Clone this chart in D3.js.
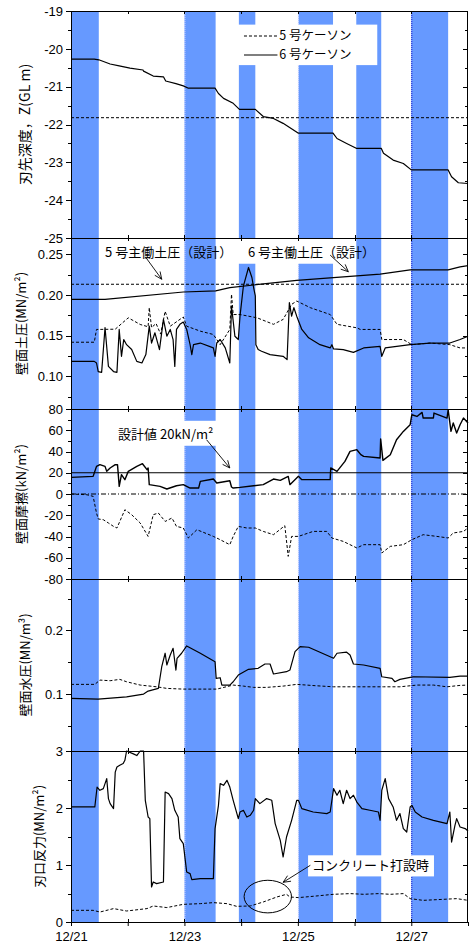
<!DOCTYPE html>
<html><head><meta charset="utf-8">
<script src="https://cdn.jsdelivr.net/npm/d3@7"></script>
<style>body{margin:0;background:#fff}svg{display:block}</style>
</head><body><svg id="c" width="469" height="944"></svg>
<script>
// ---------------- data (time in days since 12/21 00:00) ----------------
const xTickLabels = ["12/21","","12/23","","12/25","","12/27",""];
const bands = [[0,0.49],[2.0,2.55],[2.96,3.25],[4.01,4.62],[5.03,5.47],[6.0,6.65]];
const legendNames = ["5 号ケーソン","6 号ケーソン"];

// panel 1 : cutting edge depth (GL m)
const depth5 = [[0,-21.82],[7,-21.82]];
const depth6 = [[0,-20.27],[0.41,-20.27],[0.49,-20.29],[0.69,-20.4],[0.85,-20.45],[1.04,-20.51],[1.27,-20.56],[1.28,-20.59],[1.45,-20.72],[1.63,-20.74],[1.67,-20.85],[1.85,-20.92],[1.98,-20.98],[2.07,-21.04],[2.54,-21.04],[2.60,-21.18],[2.69,-21.31],[2.86,-21.44],[2.97,-21.6],[3.25,-21.6],[3.39,-21.79],[3.57,-21.84],[3.74,-21.97],[4.01,-22.23],[4.62,-22.23],[4.69,-22.37],[4.86,-22.5],[5.03,-22.63],[5.47,-22.63],[5.51,-22.76],[5.68,-22.94],[5.86,-23.03],[6.0,-23.2],[6.65,-23.2],[6.71,-23.38],[6.83,-23.54],[7.0,-23.56]];

// panel 2 : wall earth pressure (MN/m2)
const epDesign5 = [[0,0.2132],[7,0.2132]];
const epDesign6 = [[0,0.1946],[0.6,0.1946],[1.98,0.2037],[2.55,0.2050],[2.80,0.2091],[3.98,0.218],[5.45,0.2256],[5.98,0.2309],[6.65,0.2309],[6.86,0.2346],[7.0,0.236]];
const ep5 = [[0,0.142],[0.41,0.142],[0.45,0.1577],[0.78,0.158],[1.01,0.172],[1.22,0.1638],[1.36,0.161],[1.38,0.1845],[1.42,0.16],[1.5,0.165],[1.58,0.152],[1.66,0.180],[1.75,0.1617],[1.98,0.173],[2.04,0.1617],[2.28,0.1556],[2.51,0.1515],[2.57,0.1453],[2.63,0.139],[2.80,0.1577],[2.83,0.2009],[2.86,0.176],[2.98,0.176],[3.28,0.172],[3.57,0.164],[3.74,0.170],[3.89,0.1885],[3.98,0.1926],[4.22,0.1844],[4.57,0.176],[4.69,0.164],[5.04,0.1597],[5.10,0.1577],[5.45,0.1577],[5.48,0.1453],[5.86,0.1453],[6.01,0.139],[6.33,0.141],[6.68,0.139],[6.86,0.135],[7.0,0.135]];
const ep6 = [[0,0.1185],[0.41,0.1185],[0.45,0.1165],[0.48,0.106],[0.54,0.105],[0.60,0.16],[0.66,0.1123],[0.75,0.106],[0.81,0.105],[0.85,0.1577],[0.89,0.1247],[0.93,0.1453],[0.98,0.139],[1.07,0.133],[1.16,0.1185],[1.25,0.1165],[1.32,0.1268],[1.38,0.1617],[1.42,0.141],[1.48,0.1536],[1.56,0.133],[1.63,0.170],[1.69,0.1494],[1.75,0.1577],[1.80,0.1453],[1.83,0.1123],[1.86,0.1577],[1.92,0.164],[1.98,0.1667],[2.04,0.1577],[2.10,0.139],[2.13,0.1268],[2.16,0.139],[2.28,0.141],[2.51,0.135],[2.54,0.1247],[2.57,0.141],[2.63,0.1453],[2.72,0.135],[2.80,0.1165],[2.83,0.1864],[2.89,0.1494],[2.95,0.1453],[2.98,0.174],[3.04,0.211],[3.13,0.2338],[3.19,0.2215],[3.22,0.2091],[3.25,0.1988],[3.26,0.139],[3.30,0.133],[3.36,0.1309],[3.51,0.1268],[3.74,0.1247],[3.81,0.1206],[3.85,0.1906],[3.89,0.174],[3.93,0.1844],[3.98,0.174],[4.07,0.1577],[4.19,0.1474],[4.39,0.139],[4.57,0.135],[4.60,0.139],[4.63,0.1338],[4.80,0.133],[4.98,0.1296],[5.16,0.135],[5.45,0.137],[5.48,0.1247],[5.54,0.135],[5.98,0.139],[6.33,0.141],[6.68,0.141],[6.86,0.1453],[7.0,0.1494]];

// panel 3 : wall friction (kN/m2)
const frDesign = [[0,20],[7,20]];
const frZero = [[0,0],[7,0]];
const fr6 = [[0,15.6],[0.39,16.6],[0.45,26],[0.51,27.6],[0.60,26],[0.63,21.3],[0.69,24.5],[0.78,27.6],[0.82,27.6],[0.85,7.2],[0.89,18.2],[0.95,13.5],[1.01,21.3],[1.16,26],[1.26,28.5],[1.34,22.9],[1.36,24.5],[1.38,8.8],[1.57,7.2],[1.69,4.7],[1.86,7.8],[1.98,8.8],[2.10,5.6],[2.25,5.6],[2.28,11.9],[2.51,14.1],[2.57,10.4],[2.80,12.5],[2.83,6.6],[2.86,5.6],[2.98,6.2],[3.22,7.8],[3.39,8.8],[3.57,14.1],[3.69,12.8],[3.83,16.6],[3.86,8.8],[4.01,16.6],[4.07,13.5],[4.57,13.5],[4.58,24.5],[4.69,21.3],[4.83,30.7],[4.92,40.1],[5.04,41.7],[5.11,37],[5.16,35.4],[5.45,33.9],[5.46,51.8],[5.50,31.6],[5.63,37],[5.74,51.1],[5.86,58.9],[5.98,65.2],[6.01,74.6],[6.10,73],[6.19,76.8],[6.21,71.5],[6.39,71.5],[6.40,76.2],[6.63,71.5],[6.65,79.3],[6.70,58.9],[6.74,66.8],[6.80,57.4],[6.86,65.2],[6.92,71.5],[7.0,66.8]];
const fr5 = [[0,0],[0.28,-0.7],[0.39,-2.2],[0.45,-17.9],[0.48,-23.5],[0.57,-24.2],[0.66,-27.3],[0.75,-30.5],[0.81,-32],[0.95,-14.8],[1.07,-19.5],[1.22,-27.3],[1.36,-39.9],[1.45,-19.5],[1.54,-17.9],[1.66,-25.8],[1.78,-22.6],[1.86,-30.5],[1.98,-32],[2.07,-41.4],[2.22,-33.6],[2.51,-39.9],[2.63,-43],[2.80,-47.7],[2.86,-39.9],[2.95,-30.5],[3.10,-32],[3.25,-32],[3.39,-35.2],[3.57,-38.3],[3.77,-29.8],[3.83,-58.7],[3.89,-39.9],[4.01,-39.9],[4.27,-35.2],[4.51,-35.2],[4.60,-41.4],[4.80,-44.6],[5.04,-50.8],[5.16,-47.7],[5.45,-47.7],[5.48,-55.5],[5.63,-49.3],[5.86,-47.7],[6.01,-43],[6.21,-38.3],[6.45,-39.9],[6.65,-41.4],[6.74,-36.7],[6.92,-35.2],[7.0,-32]];

// panel 4 : wall water pressure (MN/m3)
const wp6 = [[0,0.0937],[0.48,0.0926],[0.98,0.0962],[1.28,0.1005],[1.36,0.1052],[1.54,0.1094],[1.60,0.1433],[1.66,0.1644],[1.69,0.146],[1.75,0.1617],[1.80,0.1722],[1.85,0.1381],[1.87,0.1565],[1.95,0.1644],[2.04,0.1758],[2.28,0.1644],[2.54,0.1512],[2.56,0.1251],[2.63,0.1261],[2.66,0.1146],[2.80,0.1146],[2.86,0.1198],[2.95,0.1303],[3.13,0.1392],[3.30,0.1408],[3.42,0.1476],[3.51,0.1476],[3.57,0.1319],[3.80,0.1355],[3.86,0.1381],[3.95,0.1669],[4.04,0.1747],[4.19,0.1738],[4.63,0.1565],[4.69,0.1644],[4.86,0.166],[4.92,0.1617],[4.98,0.1476],[5.16,0.146],[5.45,0.1408],[5.48,0.1276],[5.66,0.1251],[5.71,0.1198],[5.80,0.1235],[5.98,0.1267],[6.04,0.1276],[6.68,0.1267],[6.86,0.1287],[7.0,0.1287]];
const wp5 = [[0,0.1157],[0.42,0.1157],[0.51,0.1224],[0.69,0.1214],[0.86,0.1235],[0.98,0.1198],[1.22,0.1146],[1.51,0.1119],[1.69,0.1094],[1.98,0.1083],[2.57,0.1083],[2.86,0.1146],[3.04,0.113],[3.22,0.111],[3.45,0.111],[3.74,0.113],[3.98,0.1157],[4.33,0.1135],[4.63,0.1119],[5.51,0.1119],[5.80,0.1119],[6.10,0.1146],[6.39,0.1146],[6.63,0.1119],[6.86,0.1141],[7.0,0.1146]];

// panel 5 : cutting edge reaction (MN/m2)
const br6 = [[0,2.018],[0.42,2.018],[0.46,2.368],[0.51,2.311],[0.57,2.34],[0.63,2.516],[0.66,2.165],[0.69,2.077],[0.75,1.99],[0.78,2.63],[0.81,2.72],[0.86,2.75],[0.92,2.78],[0.95,2.837],[0.98,3.0],[1.10,2.95],[1.16,2.92],[1.22,3.0],[1.28,3.0],[1.31,2.135],[1.36,1.842],[1.39,1.814],[1.42,0.614],[1.45,0.702],[1.51,0.674],[1.63,0.702],[1.66,2.28],[1.72,2.253],[1.78,2.165],[1.83,1.96],[1.89,1.842],[1.92,1.463],[1.98,1.375],[2.04,0.877],[2.10,0.849],[2.13,0.744],[2.28,0.761],[2.51,0.761],[2.54,1.639],[2.60,2.047],[2.63,2.428],[2.69,2.398],[2.75,2.486],[2.80,2.368],[2.86,2.135],[2.95,1.814],[2.98,1.93],[3.04,1.96],[3.10,1.842],[3.16,1.872],[3.22,1.96],[3.25,2.165],[3.33,2.077],[3.45,2.165],[3.54,2.135],[3.60,1.726],[3.69,1.433],[3.74,1.14],[3.80,1.491],[3.89,1.784],[3.98,2.135],[4.01,2.135],[4.07,1.989],[4.27,1.93],[4.51,1.902],[4.57,1.93],[4.63,2.34],[4.69,2.223],[4.74,2.311],[4.80,2.077],[4.86,2.311],[4.92,2.165],[4.98,2.223],[5.04,2.105],[5.13,1.989],[5.27,1.96],[5.42,1.93],[5.45,1.784],[5.48,2.311],[5.54,2.516],[5.60,2.165],[5.68,2.018],[5.74,1.784],[5.80,1.902],[5.86,1.639],[5.92,1.579],[5.98,2.018],[6.01,2.047],[6.07,1.93],[6.19,1.842],[6.39,1.784],[6.63,1.726],[6.68,1.93],[6.71,1.403],[6.77,1.696],[6.80,1.814],[6.86,1.667],[6.95,1.639],[7.0,1.597]];
const br5 = [[0,0.205],[0.39,0.205],[0.51,0.175],[0.75,0.235],[0.98,0.193],[1.34,0.235],[1.45,0.281],[1.69,0.253],[1.98,0.31],[2.28,0.322],[2.51,0.34],[2.75,0.322],[2.92,0.275],[3.16,0.281],[3.39,0.351],[3.63,0.439],[3.80,0.486],[3.86,0.439],[4.01,0.428],[4.27,0.451],[4.63,0.486],[4.92,0.498],[5.16,0.486],[5.42,0.498],[5.63,0.486],[5.86,0.498],[5.98,0.41],[6.21,0.38],[6.57,0.398],[6.80,0.41],[7.0,0.38]];

// ---------------- layout ----------------
const L = 71, R = 468;
const x = d3.scaleLinear().domain([0, 7]).range([L, R]);
const svg = d3.select("#c");
const NUM = "'Liberation Sans', Arial, sans-serif";
const CJK = "'Noto Sans CJK JP', 'Noto Sans', sans-serif";
const BLUE = "#6699ff";

const panels = [
  {top:11,  bot:238,   domain:[-25,-19], major:d3.range(-25,-18.99,1), minor:0.5, labels:[-19,-20,-21,-22,-23,-24,-25], fmt:v=>String(v), title:"刃先深度，Z(GL m)", tx:25, fs:14},
  {top:238, bot:409,   domain:[0.06,0.27], major:[0.10,0.15,0.20,0.25], minor:0.025, labels:[0.10,0.15,0.20,0.25], fmt:d3.format(".2f"), title:"壁面土圧(MN/m²)", tx:21, fs:13},
  {top:409, bot:579,   domain:[-80,80], major:d3.range(-80,81,20), minor:10, labels:d3.range(-80,81,20), fmt:v=>String(v), title:"壁面摩擦(kN/m²)", tx:21, fs:13},
  {top:579, bot:751,   domain:[0.0115,0.2805], major:[0.1,0.2], minor:0.05, labels:[0.1,0.2], fmt:d3.format(".1f"), title:"壁面水圧(MN/m³)", tx:25, fs:13},
  {top:751, bot:922,   domain:[0,3], major:[0,1,2,3], minor:0.5, labels:[0,1,2,3], fmt:v=>String(v), title:"刃口反力(MN/m²)", tx:39, fs:13}
];
panels.forEach(p => p.y = d3.scaleLinear().domain(p.domain).range([p.bot, p.top]));
const [P1,P2,P3,P4,P5] = panels;
const TOP = P1.top, BOT = P5.bot;

// ---------------- background bands ----------------
const gBand = svg.append("g");
gBand.selectAll("rect").data(bands).join("rect")
  .attr("x", d => x(d[0])).attr("width", d => x(d[1]) - x(d[0]))
  .attr("y", TOP).attr("height", BOT - TOP).attr("fill", BLUE);

// vertical dotted date lines
[[2,"#d8d8ff"],[4,"#d8d8ff"],[6,"#1a1acc"]].forEach(([d,c]) => {
  svg.append("line").attr("x1", x(d)+0.5).attr("x2", x(d)+0.5).attr("y1", TOP).attr("y2", BOT)
    .attr("stroke", c).attr("stroke-width", 1).attr("stroke-dasharray", "1,1");
});

// white boxes behind labels (given in data coordinates)
function whiteBox(p, t0, t1, v0, v1) {
  svg.append("rect").attr("x", x(t0)).attr("width", x(t1) - x(t0))
    .attr("y", p.y(v0)).attr("height", p.y(v1) - p.y(v0)).attr("fill", "#fff");
}
whiteBox(P1, 2.88, 5.40, -19.36, -20.43);
whiteBox(P2, 2.91, 4.92, 0.2690, 0.2384);
whiteBox(P3, 0.72, 2.57, 68.9, 45.4);
whiteBox(P5, 4.18, 6.40, 1.17, 0.80);

// ---------------- series ----------------
function draw(p, data, dashed, w) {
  const line = d3.line().x(d => x(d[0])).y(d => p.y(d[1]));
  svg.append("path").datum(data).attr("d", line).attr("fill", "none")
    .attr("stroke", "#000").attr("stroke-width", w || (dashed ? 1 : 1.2))
    .attr("stroke-dasharray", dashed || null).attr("stroke-linejoin", "round");
}
const DASH = "3,2";
draw(P1, depth5, DASH); draw(P1, depth6, null);
draw(P2, epDesign5, DASH); draw(P2, epDesign6, null);
draw(P2, ep5, DASH); draw(P2, ep6, null);
draw(P3, frDesign, null, 1); draw(P3, frZero, "5,2,1,2", 1);
draw(P3, fr5, DASH); draw(P3, fr6, null, 1.4);
draw(P4, wp5, DASH); draw(P4, wp6, null);
draw(P5, br5, DASH); draw(P5, br6, null);

// ---------------- frames and ticks ----------------
panels.forEach(p => {
  svg.append("rect").attr("x", L+0.5).attr("y", p.top+0.5).attr("width", R-L-1).attr("height", p.bot-p.top)
    .attr("fill", "none").attr("stroke", "#000").attr("stroke-width", 1);
  const minors = d3.range(p.domain[0] - (p.domain[0] % p.minor), p.domain[1] + 1e-9, p.minor)
    .filter(v => v >= p.domain[0] - 1e-9 && v <= p.domain[1] + 1e-9);
  minors.forEach(v => {
    const yy = Math.round(p.y(v)) + 0.5;
    svg.append("line").attr("x1", L-3).attr("x2", L).attr("y1", yy).attr("y2", yy).attr("stroke", "#000");
    svg.append("line").attr("x1", R-3).attr("x2", R).attr("y1", yy).attr("y2", yy).attr("stroke", "#000");
  });
  p.major.forEach(v => {
    const yy = Math.round(p.y(v)) + 0.5;
    svg.append("line").attr("x1", L-5).attr("x2", L).attr("y1", yy).attr("y2", yy).attr("stroke", "#000");
    svg.append("line").attr("x1", R-5).attr("x2", R).attr("y1", yy).attr("y2", yy).attr("stroke", "#000");
  });
  p.labels.forEach(v => {
    svg.append("text").attr("x", 63).attr("y", p.y(v)).attr("dy", "0.36em")
      .attr("text-anchor", "end").attr("font-family", NUM).attr("font-size", 13).text(p.fmt(v));
  });
  // x ticks inside each panel
  d3.range(1, 7).forEach(d => {
    const xx = Math.round(x(d)) + 0.5;
    svg.append("line").attr("x1", xx).attr("x2", xx).attr("y1", p.top).attr("y2", p.top+3).attr("stroke", "#000");
    svg.append("line").attr("x1", xx).attr("x2", xx).attr("y1", p.bot).attr("y2", p.bot-3).attr("stroke", "#000");
  });
  // axis title
  svg.append("text").attr("transform", `translate(${p.tx},${(p.top+p.bot)/2}) rotate(-90)`)
    .attr("text-anchor", "middle").attr("dy", "0.35em").attr("font-family", CJK)
    .attr("font-size", p.fs).text(p.title);
});

// bottom x axis
const xAxis = d3.axisBottom(x).tickValues(d3.range(0, 8)).tickSize(4)
  .tickFormat((d, i) => xTickLabels[i]);
const gx = svg.append("g").attr("transform", `translate(0,${BOT})`).call(xAxis);
gx.select(".domain").remove();
gx.selectAll("text").attr("font-family", NUM).attr("font-size", 13).attr("fill", "#000").attr("dy", "0.9em");
gx.selectAll("line").attr("stroke", "#000");

// ---------------- legend ----------------
const lg = [[DASH, -19.661, legendNames[0]], [null, -20.163, legendNames[1]]];
lg.forEach(([dash, v, name]) => {
  const yy = P1.y(v);
  svg.append("line").attr("x1", x(3.05)).attr("x2", x(3.64)).attr("y1", yy).attr("y2", yy)
    .attr("stroke", "#000").attr("stroke-width", 1.1).attr("stroke-dasharray", dash);
  svg.append("text").attr("x", x(3.67)).attr("y", yy).attr("dy", "0.35em")
    .attr("font-family", CJK).attr("font-size", 12.5).text(name);
});

// ---------------- annotations ----------------
function arrow(p, t0, v0, t1, v1) {
  const x0 = x(t0), y0 = p.y(v0), x1 = x(t1), y1 = p.y(v1);
  const a = Math.atan2(y1 - y0, x1 - x0), h = 8, s = 0.42;
  svg.append("line").attr("x1", x0).attr("y1", y0).attr("x2", x1).attr("y2", y1).attr("stroke", "#000").attr("stroke-width", 0.9);
  [a + Math.PI - s, a + Math.PI + s].forEach(b => {
    svg.append("line").attr("x1", x1).attr("y1", y1)
      .attr("x2", x1 + h*Math.cos(b)).attr("y2", y1 + h*Math.sin(b)).attr("stroke", "#000").attr("stroke-width", 0.9);
  });
}
function label(p, t, v, txt) {
  svg.append("text").attr("x", x(t)).attr("y", p.y(v)).attr("font-family", CJK).attr("font-size", 13).text(txt);
}
label(P2, 0.60, 0.2467, "5 号主働土圧（設計）");
arrow(P2, 1.31, 0.247, 1.60, 0.2193);
label(P2, 3.12, 0.2467, "6 号主働土圧（設計）");
arrow(P2, 4.57, 0.249, 4.89, 0.2286);
label(P3, 0.83, 52, "設計値  20kN/m²");
arrow(P3, 2.39, 51.1, 2.80, 24.5);
label(P5, 4.25, 0.907, "コンクリート打設時");
arrow(P5, 4.22, 0.995, 3.74, 0.696);
svg.append("ellipse").attr("cx", x(3.47)).attr("cy", P5.y(0.446)).attr("rx", 23.7).attr("ry", 16.3)
  .attr("fill", "none").attr("stroke", "#000").attr("stroke-width", 1);
</script>
</body></html>
